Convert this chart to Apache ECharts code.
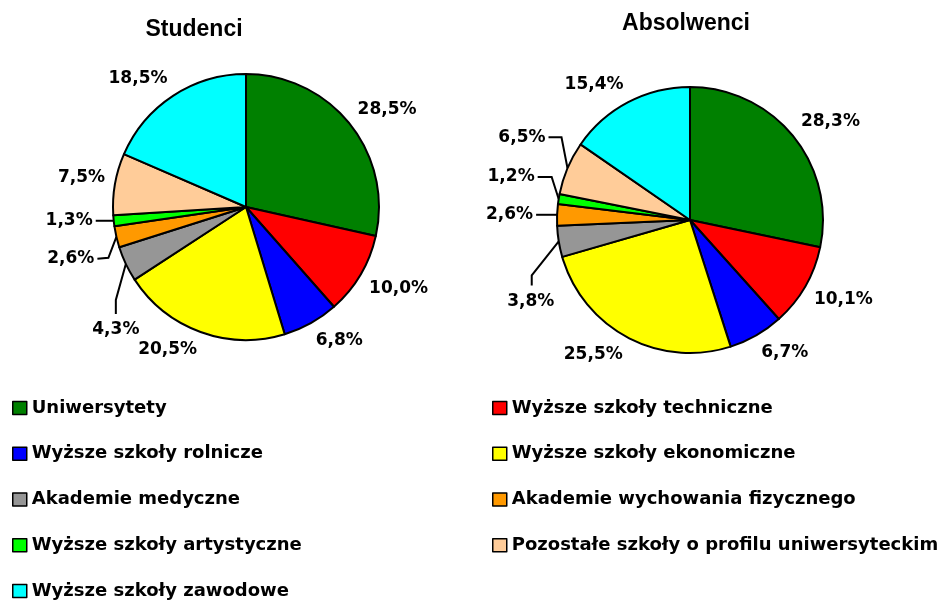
<!DOCTYPE html>
<html>
<head>
<meta charset="utf-8">
<script src="https://cdn.jsdelivr.net/npm/echarts@6/dist/echarts.min.js"></script>
<style>
  html, body { margin: 0; padding: 0; background: #fff; }
  #main { width: 940px; height: 602px; }
</style>
</head>
<body>
<div id="main"></div>
<script>
// kategorie (kolejność jak w legendzie / na wykresie)
const categories = [
    'Uniwersytety',
    'Wyższe szkoły techniczne',
    'Wyższe szkoły rolnicze',
    'Wyższe szkoły ekonomiczne',
    'Akademie medyczne',
    'Akademie wychowania fizycznego',
    'Wyższe szkoły artystyczne',
    'Pozostałe szkoły o profilu uniwersyteckim',
    'Wyższe szkoły zawodowe'
];
const colors = ['#008000', '#ff0000', '#0000ff', '#ffff00', '#969696', '#ff9900', '#00ff00', '#ffcc99', '#00ffff'];

const studenci = [28.5, 10.0, 6.8, 20.5, 4.3, 2.6, 1.3, 7.5, 18.5];
const absolwenci = [28.3, 10.1, 6.7, 25.5, 3.8, 2.6, 1.2, 6.5, 15.4];

const FONT = 'DejaVu Sans';
const RADIUS = 133;

// etykiety małych wycinków odsunięte z linią odniesienia:
// przesunięcia względem punktu na krawędzi wycinka (łamanie linii, koniec linii, etykieta)
const leadersStudenci = {
    4: { pts: [[-10, 36], [-10, 50]], label: [-10, 57], align: 'center', va: 'top' },
    5: { pts: [[-8, 21], [-19, 22]], label: [-22, 22], align: 'right', va: 'middle' },
    6: { pts: [[-18, 0]], label: [-21, 0], align: 'right', va: 'middle' }
};
const leadersAbsolwenci = {
    4: { pts: [[-27, 34], [-27, 44]], label: [-28, 52], align: 'center', va: 'top' },
    5: { pts: [[-21, 0]], label: [-24, 0], align: 'right', va: 'middle' },
    6: { pts: [[-7, -22], [-21, -22]], label: [-24, -22], align: 'right', va: 'middle' },
    7: { pts: [[-6, -31], [-19, -31]], label: [-22, -31], align: 'right', va: 'middle' }
};

function pieData(values, leaders) {
    return values.map(function (v, i) {
        return {
            name: categories[i],
            value: v,
            itemStyle: { color: colors[i] },
            labelLine: { show: !!leaders[i] }
        };
    });
}

function clamp(v) { return Math.max(-1, Math.min(1, v)); }

// położenie etykiet liczone z kąta środka wycinka (jak w Excelu)
function labelPlacer(values, leaders, center) {
    const total = values.reduce(function (a, b) { return a + b; }, 0);
    return function (p) {
        const i = p.dataIndex;
        let before = 0;
        for (let k = 0; k < i; k++) before += values[k];
        const ang = (before + values[i] / 2) / total * 2 * Math.PI;
        const dx = Math.sin(ang), dy = -Math.cos(ang);
        const ex = center[0] + dx * RADIUS, ey = center[1] + dy * RADIUS;
        const ld = leaders[i];
        if (ld) {
            const pts = [[ex, ey]].concat(ld.pts.map(function (o) { return [ex + o[0], ey + o[1]]; }));
            return {
                x: ex + ld.label[0],
                y: ey + ld.label[1],
                align: ld.align,
                verticalAlign: ld.va,
                labelLinePoints: pts
            };
        }
        const w = p.labelRect.width, h = p.labelRect.height;
        const gap = 10;
        const px = center[0] + dx * (RADIUS + gap), py = center[1] + dy * (RADIUS + gap);
        return {
            x: px + clamp(dx * 3) * w / 2,
            y: py + clamp(dy * 3) * h / 2,
            align: 'center',
            verticalAlign: 'middle'
        };
    };
}

function pieSeries(name, center, values, leaders) {
    return {
        name: name,
        type: 'pie',
        center: center,
        radius: RADIUS,
        startAngle: 90,
        clockwise: true,
        silent: true,
        avoidLabelOverlap: false,
        itemStyle: { borderColor: '#000', borderWidth: 2 },
        label: {
            show: true,
            position: 'outside',
            formatter: function (p) {
                return values[p.dataIndex].toFixed(1).replace('.', ',') + '%';
            },
            color: '#000',
            fontFamily: FONT,
            fontWeight: 'bold',
            fontSize: 17
        },
        labelLine: {
            length: 8,
            length2: 14,
            lineStyle: { color: '#000', width: 2 }
        },
        labelLayout: labelPlacer(values, leaders, center),
        emphasis: { disabled: true },
        data: pieData(values, leaders)
    };
}

let chartDom = document.getElementById('main');
let chart = echarts.init(chartDom);

const legendText = { color: '#000', fontFamily: FONT, fontWeight: 'bold', fontSize: 18, lineHeight: 20 };
const legendBase = {
    orient: 'vertical',
    icon: 'rect',
    itemWidth: 14,
    itemHeight: 13,
    itemGap: 25.75,
    padding: 0,
    height: 220,
    selectedMode: false,
    itemStyle: { borderColor: '#000', borderWidth: 1.5 },
    textStyle: legendText
};

let option = {
    backgroundColor: '#fff',
    animation: false,
    title: [
        {
            text: 'Studenci',
            left: 189, top: 13, textAlign: 'center',
            textStyle: { fontFamily: 'Liberation Sans', fontWeight: 'bold', fontSize: 23, color: '#000' }
        },
        {
            text: 'Absolwenci',
            left: 681, top: 7, textAlign: 'center',
            textStyle: { fontFamily: 'Liberation Sans', fontWeight: 'bold', fontSize: 23, color: '#000' }
        }
    ],
    legend: [
        Object.assign({}, legendBase, {
            left: 12, top: 398,
            data: categories.filter(function (c, i) { return i % 2 === 0; })
        }),
        Object.assign({}, legendBase, {
            left: 492, top: 398,
            data: categories.filter(function (c, i) { return i % 2 === 1; })
        })
    ],
    series: [
        pieSeries('Studenci', [246, 207], studenci, leadersStudenci),
        pieSeries('Absolwenci', [690, 220], absolwenci, leadersAbsolwenci)
    ]
};

option && chart.setOption(option);
</script>
</body>
</html>
